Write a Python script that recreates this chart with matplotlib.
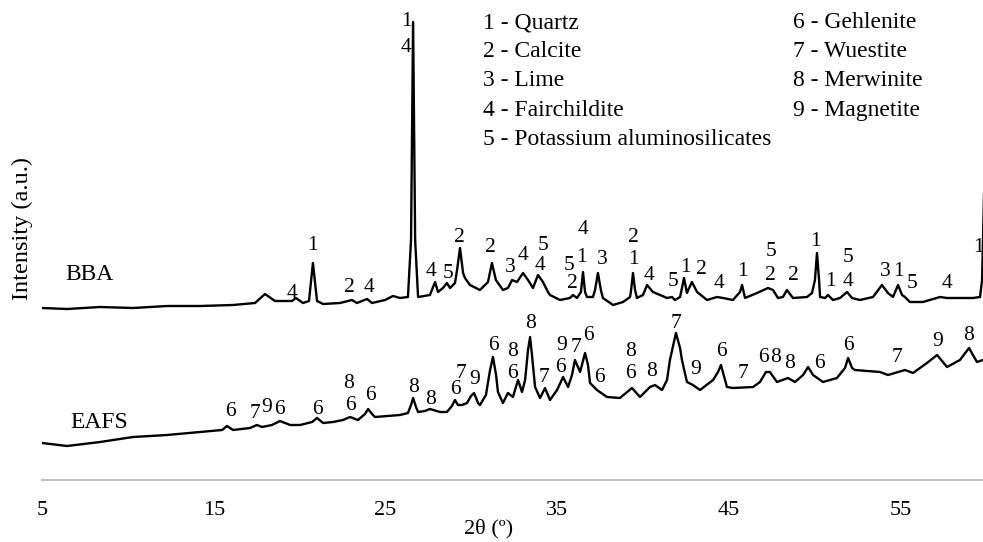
import matplotlib
matplotlib.use('Agg')
import matplotlib.pyplot as plt

plt.rcParams['font.family'] = ['Liberation Serif', 'DejaVu Serif']

# BBA pattern (2theta in degrees, intensity in a.u.)
bba_2theta = [5.00, 6.46, 8.38, 10.30, 12.28, 14.20, 16.12, 17.40, 17.98, 18.56,
              19.55, 19.78, 20.19, 20.54, 20.77, 21.01, 21.36, 22.35, 23.04, 23.33,
              23.92, 24.21, 24.97, 25.43, 25.84, 26.30, 26.48, 26.60, 26.72, 26.89,
              27.58, 27.88, 28.05, 28.34, 28.57, 28.75, 29.04, 29.16, 29.33, 29.51,
              29.62, 29.91, 30.49, 30.96, 31.19, 31.42, 31.83, 32.12, 32.36, 32.65,
              33.00, 33.29, 33.58, 33.87, 34.16, 34.45, 34.57, 35.15, 35.73, 35.91,
              36.14, 36.37, 36.49, 36.61, 36.72, 37.07, 37.19, 37.36, 37.53, 37.65,
              38.24, 38.82, 39.23, 39.29, 39.40, 39.52, 39.63, 39.98, 40.22, 40.56,
              41.38, 41.67, 41.84, 42.14, 42.37, 42.54, 42.83, 43.13, 43.71, 44.29,
              44.64, 45.22, 45.63, 45.75, 45.92, 46.62, 47.26, 47.55, 47.84, 48.13,
              48.36, 48.71, 49.53, 49.82, 49.99, 50.11, 50.23, 50.29, 50.58, 50.75,
              51.04, 51.45, 51.86, 52.15, 52.61, 53.37, 53.89, 54.24, 54.53, 54.83,
              55.06, 55.23, 55.52, 56.28, 57.27, 57.68, 58.43, 59.19, 59.60, 59.72,
              59.85, 59.96]
bba_int = [172, 171, 173, 172, 174, 174, 175, 177, 186, 179,
           179, 182, 177, 179, 217, 179, 176, 177, 180, 177,
           181, 177, 180, 184, 182, 183, 240, 458, 240, 183,
           185, 198, 188, 192, 197, 192, 197, 210, 232, 207,
           202, 195, 190, 198, 217, 200, 190, 192, 200, 198,
           207, 200, 192, 205, 198, 188, 185, 180, 182, 185,
           182, 188, 208, 188, 183, 183, 190, 207, 190, 182,
           175, 178, 183, 190, 207, 190, 182, 185, 195, 188,
           182, 183, 180, 183, 202, 187, 198, 188, 180, 183,
           182, 180, 188, 195, 182, 187, 192, 190, 182, 183,
           190, 182, 183, 187, 200, 227, 200, 183, 182, 185,
           180, 182, 188, 182, 180, 183, 195, 187, 183, 195,
           185, 183, 178, 178, 183, 182, 182, 182, 183, 200,
           300, 330]

# EAFS pattern
eafs_2theta = [5.00, 6.46, 8.38, 10.30, 12.28, 14.20, 15.48, 15.77, 16.12, 17.11,
               17.51, 17.81, 18.39, 18.85, 19.44, 20.02, 20.72, 21.01, 21.36, 21.94,
               22.52, 22.93, 23.39, 23.80, 23.98, 24.21, 24.38, 25.84, 26.30, 26.48,
               26.60, 26.77, 26.89, 27.29, 27.58, 28.17, 28.57, 28.86, 29.04, 29.21,
               29.45, 29.74, 29.97, 30.15, 30.38, 30.49, 30.84, 31.08, 31.25, 31.43,
               31.54, 31.83, 32.12, 32.41, 32.71, 32.94, 33.12, 33.29, 33.41, 33.52,
               33.70, 33.99, 34.28, 34.57, 34.98, 35.33, 35.62, 35.85, 36.02, 36.32,
               36.61, 36.78, 36.90, 37.30, 37.89, 38.64, 39.34, 39.81, 40.39, 40.68,
               41.09, 41.38, 41.55, 41.90, 42.14, 42.25, 42.54, 42.89, 43.30, 44.06,
               44.35, 44.52, 44.76, 44.87, 45.22, 46.39, 46.79, 47.14, 47.37, 47.78,
               48.42, 48.83, 49.30, 49.59, 49.88, 50.46, 51.27, 51.74, 51.92, 52.15,
               52.32, 53.78, 54.24, 55.23, 55.70, 56.51, 57.10, 57.68, 58.43, 58.96,
               59.42, 59.77]
eafs_int = [37, 34, 38, 43, 45, 48, 50, 54, 50, 52,
            55, 53, 55, 59, 55, 55, 58, 62, 57, 58,
            60, 63, 60, 66, 71, 66, 63, 65, 67, 75,
            82, 73, 68, 69, 71, 68, 68, 74, 80, 75,
            75, 77, 84, 87, 77, 75, 85, 110, 123, 105,
            88, 77, 87, 83, 100, 88, 100, 130, 143, 125,
            93, 82, 92, 80, 90, 103, 93, 105, 120, 108,
            127, 115, 97, 90, 83, 82, 92, 83, 93, 95,
            90, 100, 120, 147, 132, 120, 98, 95, 90, 100,
            108, 115, 100, 93, 92, 93, 98, 108, 108, 98,
            102, 98, 105, 113, 105, 98, 102, 112, 122, 112,
            110, 108, 105, 110, 107, 117, 125, 113, 120, 132,
            118, 120]

# phase numbers written over the peaks
bba_lab_x = [19.55, 20.77, 22.87, 24.03, 26.19, 26.19, 27.64, 28.63, 29.27, 31.08,
             32.24, 33.00, 34.16, 33.99, 35.67, 35.85, 36.49, 36.43, 37.60, 39.40,
             39.40, 40.33, 41.73, 42.43, 43.36, 44.41, 45.80, 47.43, 47.37, 48.71,
             50.05, 50.87, 51.92, 51.92, 54.07, 54.83, 55.64, 57.68, 59.50]
bba_lab_y = [187, 235, 192, 192, 459, 433, 208, 207, 243, 232,
             213, 225, 235, 215, 215, 197, 250, 223, 220, 243,
             221, 205, 198, 213, 210, 197, 208, 228, 205, 205,
             238, 198, 223, 198, 208, 208, 197, 197, 233]
bba_lab = ['4', '1', '2', '4', '1', '4', '4', '5', '2', '2',
           '3', '4', '5', '4', '5', '2', '4', '1', '3', '2',
           '1', '4', '5', '1', '2', '4', '1', '5', '2', '2',
           '1', '1', '5', '4', '3', '1', '5', '4', '1']

eafs_lab_x = [15.94, 17.40, 18.10, 18.80, 21.01, 22.87, 22.93, 24.09, 26.60, 27.64,
              29.04, 29.39, 30.20, 31.25, 32.41, 32.36, 33.41, 34.22, 35.15, 35.27,
              36.08, 36.78, 37.42, 39.23, 39.23, 40.51, 41.90, 43.07, 44.52, 45.80,
              46.97, 47.72, 48.54, 50.23, 51.92, 54.77, 57.15, 58.96]
eafs_lab_y = [68, 67, 73, 71, 70, 97, 75, 84, 93, 81,
              91, 107, 101, 134, 128, 107, 157, 103, 113, 135,
              133, 145, 103, 128, 107, 108, 157, 110, 128, 107,
              122, 123, 117, 117, 135, 122, 138, 145]
eafs_lab = ['6', '7', '9', '6', '6', '8', '6', '6', '8', '8',
            '6', '7', '9', '6', '8', '6', '8', '7', '6', '9',
            '7', '6', '6', '8', '6', '8', '7', '9', '6', '7',
            '6', '8', '8', '6', '6', '7', '9', '8']

phases_left = ['1 - Quartz', '2 - Calcite', '3 - Lime', '4 - Fairchildite',
               '5 - Potassium aluminosilicates']
phases_right = ['6 - Gehlenite', '7 - Wuestite', '8 - Merwinite', '9 - Magnetite']

fig = plt.figure(figsize=(9.83, 5.42), dpi=100)
ax = fig.add_axes([42 / 983, 62 / 542, 941 / 983, 480 / 542])

ax.plot(bba_2theta, bba_int, color='black', lw=1.7)
ax.plot(eafs_2theta, eafs_int, color='black', lw=1.7)

for x, y, t in zip(bba_lab_x, bba_lab_y, bba_lab):
    ax.text(x, y, t, ha='center', va='center', fontsize=15.5, clip_on=False)
for x, y, t in zip(eafs_lab_x, eafs_lab_y, eafs_lab):
    ax.text(x, y, t, ha='center', va='center', fontsize=15.5, clip_on=False)

ax.text(6.34, 205, 'BBA', ha='left', va='center', fontsize=17)
ax.text(6.63, 58, 'EAFS', ha='left', va='center', fontsize=17)

for i, t in enumerate(phases_left):
    fig.text(483 / 983, 1 - (28 + 29.2 * i) / 542, t, ha='left', va='baseline', fontsize=17)
for i, t in enumerate(phases_right):
    fig.text(793 / 983, 1 - (28 + 29.2 * i) / 542, t, ha='left', va='baseline', fontsize=17)

ax.set_xlim(5, 5 + 941 / 17.18)
ax.set_ylim(0, 480)
ax.set_xticks([5, 15, 25, 35, 45, 55])
ax.set_yticks([])
ax.tick_params(axis='x', length=0, pad=15, labelsize=16)
for s in ['top', 'right', 'left']:
    ax.spines[s].set_visible(False)
ax.spines['bottom'].set_color('#bfbfbf')
ax.spines['bottom'].set_linewidth(1.5)

ax.set_xlabel('2θ (º)', fontsize=16)
ax.xaxis.set_label_coords(0.475, -0.081)
ax.set_ylabel('Intensity (a.u.)', fontsize=17.5)
ax.yaxis.set_label_coords(-0.0096, 0.525)

fig.savefig('out.png', dpi=100)
